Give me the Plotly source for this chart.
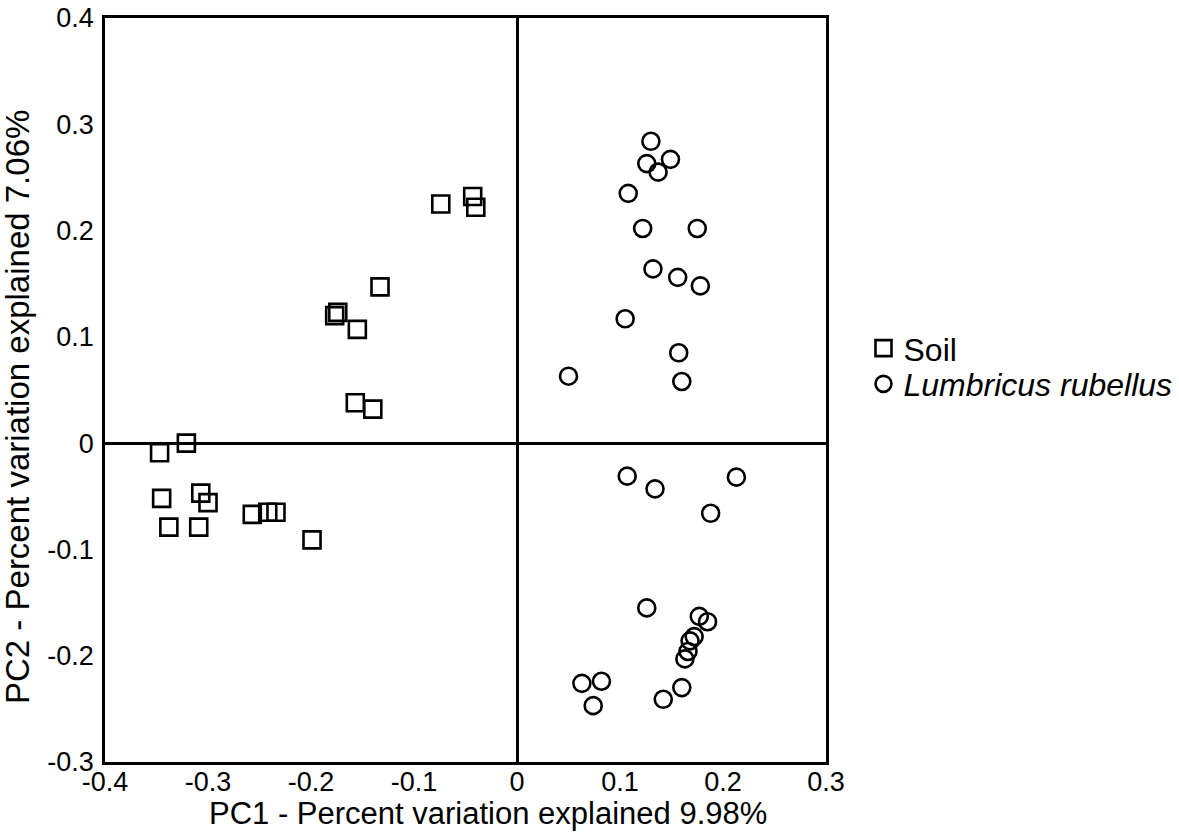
import plotly.graph_objects as go

# Soil samples (squares)
soil_pc1 = [-0.074, -0.043, -0.040, -0.133, -0.174, -0.177, -0.155, -0.157, -0.140,
            -0.321, -0.347, -0.345, -0.307, -0.300, -0.338, -0.309, -0.257, -0.242, -0.234, -0.199]
soil_pc2 = [0.225, 0.232, 0.222, 0.147, 0.123, 0.120, 0.107, 0.038, 0.032,
            0.000, -0.009, -0.052, -0.047, -0.056, -0.079, -0.079, -0.067, -0.065, -0.065, -0.091]

# Lumbricus rubellus samples (circles)
lr_pc1 = [0.130, 0.126, 0.149, 0.137, 0.108, 0.122, 0.175, 0.132, 0.156, 0.178, 0.105, 0.157, 0.050, 0.160,
          0.107, 0.134, 0.213, 0.188, 0.126, 0.177, 0.185, 0.172, 0.168, 0.166, 0.163, 0.063, 0.082, 0.074, 0.160, 0.142]
lr_pc2 = [0.284, 0.263, 0.267, 0.255, 0.235, 0.202, 0.202, 0.164, 0.156, 0.148, 0.117, 0.085, 0.063, 0.058,
          -0.031, -0.043, -0.032, -0.066, -0.155, -0.163, -0.168, -0.182, -0.186, -0.196, -0.203, -0.226, -0.224, -0.247, -0.230, -0.241]

x_tickvals = [-0.4, -0.3, -0.2, -0.1, 0, 0.1, 0.2, 0.3]
x_ticktext = ["-0.4", "-0.3", "-0.2", "-0.1", "0", "0.1", "0.2", "0.3"]
y_tickvals = [-0.3, -0.2, -0.1, 0, 0.1, 0.2, 0.3, 0.4]
y_ticktext = ["-0.3", "-0.2", "-0.1", "0", "0.1", "0.2", "0.3", "0.4"]

x_title = "PC1 - Percent variation explained 9.98%"
y_title = "PC2 - Percent variation explained 7.06%"

font_family = "Liberation Sans, Arial, sans-serif"

fig = go.Figure()
fig.add_trace(go.Scatter(
    x=soil_pc1, y=soil_pc2, mode="markers", name="Soil", legend="legend",
    marker=dict(symbol="square-open", size=17, color="black", line=dict(width=2.6, color="black")),
))
fig.add_trace(go.Scatter(
    x=lr_pc1, y=lr_pc2, mode="markers", name="<i>Lumbricus rubellus</i>", legend="legend2",
    marker=dict(symbol="circle-open", size=17, color="black", line=dict(width=2.6, color="black")),
))

legend_common = dict(xanchor="left", yanchor="middle", font=dict(size=32, color="black"),
                     itemsizing="trace", bgcolor="rgba(0,0,0,0)", borderwidth=0)

fig.update_layout(
    width=1179, height=832,
    margin=dict(l=105, r=353, t=18, b=70, autoexpand=False),
    paper_bgcolor="white", plot_bgcolor="white",
    font=dict(family=font_family, color="black", size=27),
    legend=dict(x=1.052, y=0.556, **legend_common),
    legend2=dict(x=1.052, y=0.508, **legend_common),
    showlegend=True,
    annotations=[
        dict(text=x_title, xref="paper", yref="paper", x=(488 - 105) / 721, y=-(813 - 762) / 744,
             xanchor="center", yanchor="middle", showarrow=False, font=dict(size=31)),
        dict(text=y_title, xref="paper", yref="paper", x=-(105 - 17) / 721, y=(762 - 407) / 744,
             xanchor="center", yanchor="middle", showarrow=False, textangle=-90, font=dict(size=33)),
    ],
)
fig.update_xaxes(
    range=[-0.4, 0.3], tickvals=x_tickvals, ticktext=x_ticktext,
    showgrid=False, zeroline=True, zerolinecolor="black", zerolinewidth=3,
    showline=True, linecolor="black", linewidth=2.5, mirror=True,
    ticks="", tickfont=dict(size=27), ticklabelstandoff=-6,
)
fig.update_yaxes(
    range=[-0.3, 0.4], tickvals=y_tickvals, ticktext=y_ticktext,
    showgrid=False, zeroline=True, zerolinecolor="black", zerolinewidth=3,
    showline=True, linecolor="black", linewidth=2.5, mirror=True,
    ticks="", tickfont=dict(size=27), ticklabelstandoff=3,
)

fig.write_html("out.html")
